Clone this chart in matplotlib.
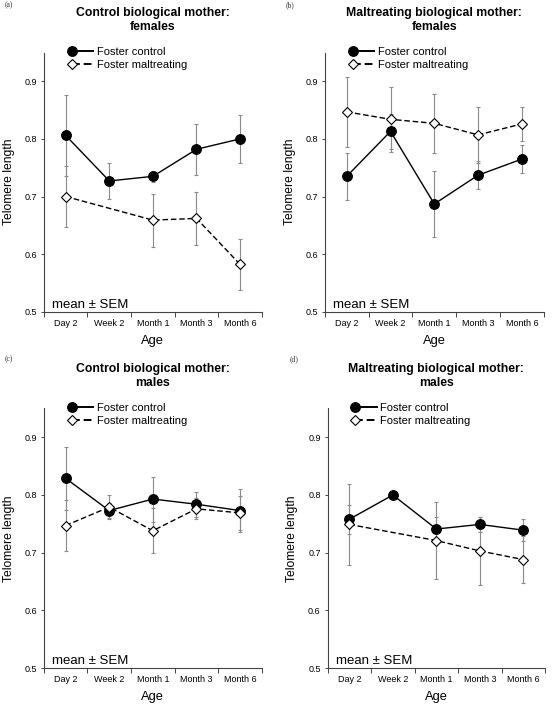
import numpy as np
import matplotlib
matplotlib.use('Agg')
import matplotlib.pyplot as plt
from matplotlib.lines import Line2D
from matplotlib.legend_handler import HandlerLine2DCompound

plt.rcParams['font.family'] = ['Liberation Sans', 'DejaVu Sans']

ages = ['Day 2', 'Week 2', 'Month 1', 'Month 3', 'Month 6']

# (a) control biological mother, females
a_ctrl = [0.806, 0.727, 0.735, 0.782, 0.800]
a_ctrl_err = [0.070, 0.031, 0.010, 0.044, 0.042]
a_mal = [0.700, np.nan, 0.659, 0.662, 0.582]
a_mal_err = [0.053, np.nan, 0.046, 0.046, 0.045]

# (b) maltreating biological mother, females
b_ctrl = [0.735, 0.813, 0.687, 0.737, 0.765]
b_ctrl_err = [0.041, 0.030, 0.057, 0.024, 0.025]
b_mal = [0.847, 0.834, 0.827, 0.807, 0.826]
b_mal_err = [0.061, 0.056, 0.051, 0.048, 0.030]

# (c) control biological mother, males
c_ctrl = [0.829, 0.773, 0.793, 0.784, 0.773]
c_ctrl_err = [0.055, 0.013, 0.039, 0.022, 0.037]
c_mal = [0.747, 0.779, 0.738, 0.776, 0.769]
c_mal_err = [0.044, 0.021, 0.039, 0.018, 0.030]

# (d) maltreating biological mother, males
d_ctrl = [0.758, 0.800, 0.741, 0.749, 0.739]
d_ctrl_err = [0.025, 0.0, 0.020, 0.013, 0.019]
d_mal = [0.749, np.nan, 0.721, 0.703, 0.688]
d_mal_err = [0.070, np.nan, 0.067, 0.059, 0.041]

panels = [
    ('(a)', 'Control biological mother:\nfemales', a_ctrl, a_ctrl_err, a_mal, a_mal_err),
    ('(b)', 'Maltreating biological mother:\nfemales', b_ctrl, b_ctrl_err, b_mal, b_mal_err),
    ('(c)', 'Control biological mother:\nmales', c_ctrl, c_ctrl_err, c_mal, c_mal_err),
    ('(d)', 'Maltreating biological mother:\nmales', d_ctrl, d_ctrl_err, d_mal, d_mal_err),
]

W, H = 552, 708
# axes boxes in pixels: left, top, width, height
boxes = [(43.9, 52.5, 218, 259.2), (324.8, 52.5, 219, 259.2),
         (43.8, 408.5, 218, 259.5), (327.6, 408.5, 217.5, 259.5)]
tag_pos = [(5, 5), (286, 5), (5, 359), (290, 359)]


class LeftMarker(HandlerLine2DCompound):
    # marker at the left end of the legend line
    def get_xdata(self, legend, xdescent, ydescent, width, height, fontsize):
        return [-xdescent, -xdescent + width], [-xdescent]


fig = plt.figure(figsize=(W / 100, H / 100), dpi=100)

for (tag, title, ctrl, ctrl_err, mal, mal_err), box, tp in zip(panels, boxes, tag_pos):
    l, t, w, h = box
    ax = fig.add_axes([l / W, 1 - (t + h) / H, w / W, h / H])
    x = np.arange(len(ages))

    for vals, errs, mk, fc, ls, lab in [(ctrl, ctrl_err, 'o', 'black', '-', 'Foster control'),
                                         (mal, mal_err, 'D', 'white', '--', 'Foster maltreating')]:
        v = np.array(vals, dtype=float)
        e = np.array(errs, dtype=float)
        ok = ~np.isnan(v)
        ax.errorbar(x[ok], v[ok], yerr=e[ok], fmt='none', ecolor='#8a8a8a',
                    elinewidth=0.8, capsize=1.6, capthick=0.8, zorder=1)
        ms = 7 if mk == 'o' else 5.4
        ln, = ax.plot(x[ok], v[ok], color='black', lw=1.0, ls=ls, marker=mk, ms=ms,
                      mfc=fc, mec='black', mew=0.8, label=lab, zorder=3)
        if ls == '--':
            ln.set_dashes((4, 2))

    ax.set_xlim(-0.5, 4.5)
    ax.set_ylim(0.5, 0.95)
    ax.set_yticks([0.5, 0.6, 0.7, 0.8, 0.9])
    ax.set_yticklabels(['0.5', '0.6', '0.7', '0.8', '0.9'])
    ax.set_xticks(np.arange(-0.5, 5, 1.0))
    ax.set_xticklabels([])
    ax.set_xticks(x, minor=True)
    ax.set_xticklabels(ages, minor=True)
    ax.tick_params(axis='x', which='major', direction='out', length=3.5, width=0.7, color='#444444')
    ax.tick_params(axis='x', which='minor', length=0, pad=5, labelsize=6.5)
    ax.tick_params(axis='y', direction='out', length=2.5, width=0.7, color='#444444',
                   pad=2.5, labelsize=6.5)
    for s in ['top', 'right']:
        ax.spines[s].set_visible(False)
    for s in ['left', 'bottom']:
        ax.spines[s].set_color('#444444')
        ax.spines[s].set_linewidth(0.8)

    ax.set_ylabel('Telomere length', fontsize=8.7, labelpad=7)
    ax.set_xlabel('Age', fontsize=9.3, labelpad=5)
    ax.set_title(title, fontsize=8.8, fontweight='bold', pad=16, linespacing=1.25)

    ax.text(0.037, 0.015, 'mean \u00b1 SEM', transform=ax.transAxes, fontsize=9.5,
            va='baseline', ha='left')

    leg = ax.legend(loc='upper left', bbox_to_anchor=(0.128, 1.02), frameon=False, fontsize=8,
                    handlelength=1.9, handletextpad=0.35, labelspacing=0.27, borderpad=0,
                    borderaxespad=0, handler_map={Line2D: LeftMarker()})
    for hl in leg.legend_handles:
        hl.set_linewidth(1.4)

    fig.text(tp[0] / W, 1 - tp[1] / H, tag, fontsize=5.5, family='Liberation Serif',
             ha='left', va='center', color='#333333')

fig.savefig('out.png', dpi=100)
